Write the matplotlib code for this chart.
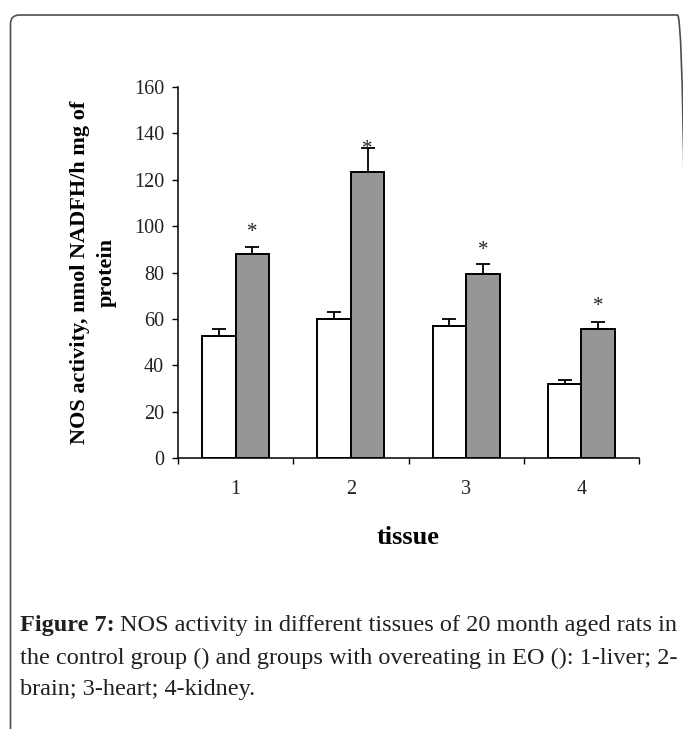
import matplotlib.pyplot as plt
import numpy as np
from matplotlib.patches import FancyBboxPatch
from matplotlib.transforms import IdentityTransform

# data (NOS activity, nmol NADFH/h mg of protein)
tissues = ["1", "2", "3", "4"]
control = [52.5, 60.0, 57.0, 32.0]
control_err = [3.0, 3.0, 3.0, 1.5]
eo = [88.0, 123.5, 79.5, 55.5]
eo_err = [3.0, 10.0, 4.0, 3.0]
# baseline of the "*" marks above the EO bars
star_y = [95.5, 131.0, 87.5, 63.5]

serif = ["Liberation Serif", "DejaVu Serif"]
plt.rcParams["font.family"] = serif

fig = plt.figure(figsize=(6.83, 7.29), dpi=100)
ax = fig.add_axes([0.2606, 0.3717, 0.675, 0.509])

x = np.arange(1, len(tissues) + 1)
w = 0.29
ax.bar(x - w / 2, control, w, color="white", edgecolor="black", linewidth=1.4,
       yerr=[np.zeros(len(control)), control_err], capsize=5,
       error_kw=dict(elinewidth=1.3, capthick=1.3, ecolor="black"))
ax.bar(x + w / 2, eo, w, color="#969696", edgecolor="black", linewidth=1.4,
       yerr=[np.zeros(len(eo)), eo_err], capsize=5,
       error_kw=dict(elinewidth=1.3, capthick=1.3, ecolor="black"))

for xi, yi in zip(x + w / 2, star_y):
    ax.text(xi, yi, "*", ha="center", va="baseline", fontsize=15, color="#222222")

ax.set_xlim(0.5, len(tissues) + 0.5)
ax.set_ylim(0, 160)
ax.set_yticks(np.arange(0, 161, 20))
ax.set_xticks(x)
ax.set_xticklabels(tissues)
ax.set_xticks(np.arange(0.5, len(tissues) + 1, 1.0), minor=True)
ax.tick_params(axis="x", which="major", length=0, pad=16, labelsize=14.5, labelcolor="#222222")
ax.tick_params(axis="x", which="minor", length=4, width=1, direction="out")
ax.tick_params(axis="y", length=4, width=1, pad=6, labelsize=14.5, labelcolor="#222222")
for s in ["top", "right"]:
    ax.spines[s].set_visible(False)
for s in ["left", "bottom"]:
    ax.spines[s].set_linewidth(1.1)

ax.set_xlabel("tissue", fontsize=19, fontweight="bold", labelpad=19)
ax.set_ylabel("NOS activity, nmol NADFH/h mg of\nprotein", fontsize=16,
              fontweight="bold", linespacing=1.45, labelpad=12)

# rounded frame around figure panel (open at bottom, right edge just off canvas)
frame = FancyBboxPatch((10.5, -30), 676, 729 - 15 + 30,
                       boxstyle="round,pad=0,rounding_size=9",
                       transform=IdentityTransform(), facecolor="none",
                       edgecolor="#4d4d4d", linewidth=1.2)
fig.add_artist(frame)

# caption
fig.canvas.draw()
r = fig.canvas.get_renderer()
cap_x = 20 / 683
fs = 17.5
t = fig.text(cap_x, 1 - 626 / 729, "Figure 7:", fontsize=fs, fontweight="bold",
             va="center", ha="left", color="#231f20")
bb = t.get_window_extent(renderer=r)
fig.text((bb.x1 + 5) / 683, 1 - 626 / 729,
         "NOS activity in different tissues of 20 month aged rats in",
         fontsize=fs, va="center", ha="left", color="#231f20")
fig.text(cap_x, 1 - 658 / 729,
         "the control group () and groups with overeating in EO (): 1-liver; 2-",
         fontsize=fs, va="center", ha="left", color="#231f20")
fig.text(cap_x, 1 - 689 / 729, "brain; 3-heart; 4-kidney.",
         fontsize=fs, va="center", ha="left", color="#231f20")

fig.savefig("out.png", dpi=100)
